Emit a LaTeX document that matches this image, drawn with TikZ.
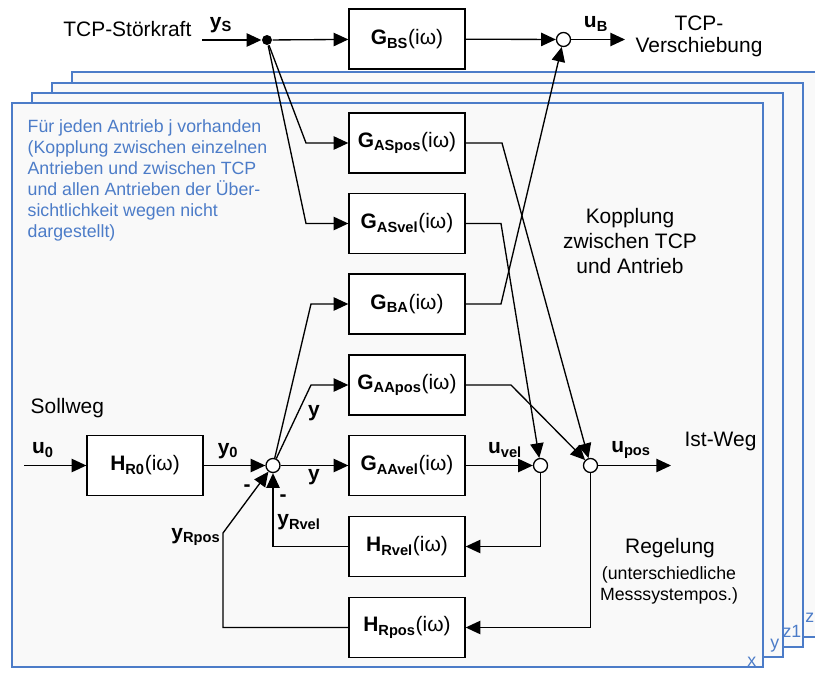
\documentclass[tikz,border=0pt]{standalone}
\usepackage{fontspec}
\setmainfont{Liberation Sans}
\usepackage{xcolor}
\usepackage{tikz}
\usetikzlibrary{arrows.meta}
\usetikzlibrary{calc}
\definecolor{panelblue}{RGB}{76,124,200}
\definecolor{panelfill}{RGB}{249,249,249}
\newcommand{\sig}[2]{\textbf{#1\textsubscript{#2}}}
\newcommand{\tf}[2]{\textbf{#1\textsubscript{#2}}(iω)}
\newcommand{\bigfont}{\fontsize{15.7}{18}\selectfont}
\newcommand{\smallfont}{\fontsize{13.3}{15.8}\selectfont}
\tikzset{
	block/.style={draw,line width=1pt,fill=white,minimum width=87pt,minimum height=45pt,inner sep=0pt,font=\bigfont},
	sum/.style={draw,line width=1pt,circle,fill=white,minimum size=10.5pt,inner sep=0pt},
	panel/.style={draw=panelblue,fill=panelfill,line width=1.1pt},
	lab/.style={font=\bigfont,inner sep=0pt},
	bluelab/.style={font=\smallfont,text=panelblue,inner sep=0pt}
}

\begin{document}
\begin{tikzpicture}[x=0.75pt,y=-0.75pt,line width=1pt,>={Triangle[length=11pt,width=10pt]}]
	\useasboundingbox (0,0) rectangle (815,675);
	\clip (0,0) rectangle (815,675);
	\draw[panel] (72,72) rectangle (830,637);
	\draw[panel] (52,83) rectangle (803,647);
	\draw[panel] (32,93) rectangle (783,657);
	\draw[panel] (12,103) rectangle (763,667);
	\node[bluelab,anchor=base east] (px) at (757,666) {x};
	\node[bluelab,anchor=base east] (py) at (780,648) {y};
	\node[bluelab,anchor=base east] (pz1) at (802,637) {z1};
	\node[bluelab,anchor=base east] (pz) at (815,622) {z};
	\node[bluelab,align=left,anchor=north west] (note) at (27,119) {Für jeden Antrieb j vorhanden\\(Kopplung zwischen einzelnen\\Antrieben und zwischen TCP\\und allen Antrieben der Über-\\sichtlichkeit wegen nicht\\dargestellt)};

	\node[block] (gbs) at (407,39) {\tf{G}{BS}};
	\node[block] (gaspos) at (407,143) {\tf{G}{ASpos}};
	\node[block] (gasvel) at (407,223.5) {\tf{G}{ASvel}};
	\node[block] (gba) at (407,304) {\tf{G}{BA}};
	\node[block] (gaapos) at (407,385) {\tf{G}{AApos}};
	\node[block] (gaavel) at (407,465.5) {\tf{G}{AAvel}};
	\node[block] (hrvel) at (407,546.5) {\tf{H}{Rvel}};
	\node[block] (hrpos) at (407,627.5) {\tf{H}{Rpos}};
	\node[block] (hr0) at (145,465.5) {\tf{H}{R0}};

	\node[circle,fill,inner sep=0pt,minimum size=7.5pt] (dot) at (267,40) {};
	\node[sum] (sb) at (563.5,39.5) {};
	\node[sum] (s0) at (273,465.5) {};
	\node[sum] (sv) at (540.5,465.5) {};
	\node[sum] (sp) at (590.5,465.5) {};

	\coordinate (ysin) at (202,40);
	\coordinate (bout) at (625,39.5);
	\coordinate (uin) at (24,465.5);
	\coordinate (pout) at (671,465.5);
	\coordinate (k1) at (306,143);
	\coordinate (k2) at (306,223.5);
	\coordinate (k3) at (311,304);
	\coordinate (k4) at (311,385);
	\coordinate (k5) at (502,143);
	\coordinate (k6) at (501,223.5);
	\coordinate (k7) at (501,304);
	\coordinate (k8) at (511,385);
	\coordinate (k9) at (223,627.5);
	\coordinate (k10) at (223,533);

	\draw[->] (ysin) -- (dot);
	\draw[->] (dot) -- (gbs);
	\draw[->] (gbs) -- (sb);
	\draw[->] (sb) -- (bout);
	\draw[->] (dot) -- (k1) -- (gaspos.west);
	\draw[->] (dot) -- (k2) -- (gasvel.west);
	\draw[->] (gaspos.east) -- (k5) -- (sp);
	\draw[->] (gasvel.east) -- (k6) -- (sv);
	\draw[->] (gba.east) -- (k7) -- (sb);
	\draw[->] (gaapos.east) -- (k8) -- (sp);
	\draw[->] (uin) -- (hr0);
	\draw[->] (hr0) -- (s0);
	\draw[->] (s0) -- (gaavel);
	\draw[->] (s0) -- (k3) -- (gba.west);
	\draw[->] (s0) -- (k4) -- (gaapos.west);
	\draw[->] (gaavel) -- (sv);
	\draw[->] (sv) -- (sv |- hrvel) -- (hrvel.east);
	\draw[->] (sp) -- (sp |- hrpos) -- (hrpos.east);
	\draw[->] (sp) -- (pout);
	\draw[->] (hrvel.west) -- (s0 |- hrvel) -- (s0);
	\draw[->] (hrpos.west) -- (k9) -- (k10) -- (s0);

	\node[lab,anchor=base east] (stoer) at (192,36) {TCP-Störkraft};
	\node[lab] (ys) at (221,25) {\sig{y}{S}};
	\node[lab] (ub) at (596,24) {\sig{u}{B}};
	\node[lab,align=center,font=\fontsize{15.7}{16.5}\selectfont] (tcpv) at (699,36) {TCP-\\Verschiebung};
	\node[lab,align=center,font=\fontsize{15.7}{18.4}\selectfont] (kopp) at (630,241) {Kopplung\\zwischen TCP\\und Antrieb};
	\node[lab,anchor=base west] (soll) at (30,413) {Sollweg};
	\node[lab] (u0) at (43,450) {\sig{u}{0}};
	\node[lab] (y0) at (228,451) {\sig{y}{0}};
	\node[lab] (ya) at (314,413) {\textbf{y}};
	\node[lab] (yb) at (314,477) {\textbf{y}};
	\node[lab] (m1) at (247,488) {\textbf{-}};
	\node[lab] (m2) at (283,498) {\textbf{-}};
	\node[lab] (yrvel) at (299,522) {\sig{y}{Rvel}};
	\node[lab,anchor=east] (yrpos) at (221,537) {\sig{y}{Rpos}};
	\node[lab] (uvel) at (505,450) {\sig{u}{vel}};
	\node[lab] (upos) at (631,450) {\sig{u}{pos}};
	\node[lab,anchor=base west] (ist) at (684,446) {Ist-Weg};
	\node[lab,anchor=base] (regel) at (670,553) {Regelung};
	\node[lab,align=center,font=\smallfont] (regeln) at (669,585) {(unterschiedliche\\Messsystempos.)};
\end{tikzpicture}
\end{document}
